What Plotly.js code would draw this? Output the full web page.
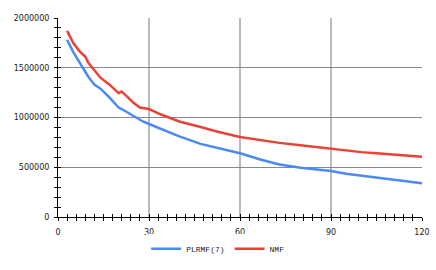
<!DOCTYPE html>
<html><head><meta charset="utf-8">
<script src="https://cdn.plot.ly/plotly-3.0.1.min.js"></script>
<style>html,body{margin:0;padding:0;background:#fff}#c{width:436px;height:270px}</style>
</head><body><div id="c"></div>
<script>
const xVals = [3,5,7,9,10,12,14,17,19,20,21,23,25,27,28,30,34,40,47,53,60,67,73,80,87,90,95,100,105,110,115,120];
const plrmf = [1780000,1660000,1560000,1460000,1410000,1330000,1290000,1200000,1140000,1100000,1085000,1050000,1020000,980000,960000,935000,885000,810000,735000,690000,640000,575000,527000,495000,475000,463000,435000,415000,398000,378000,358000,339000];
const nmf = [1870000,1750000,1670000,1610000,1550000,1470000,1400000,1330000,1270000,1245000,1262000,1200000,1145000,1100000,1095000,1085000,1030000,960000,905000,855000,805000,770000,745000,720000,695000,683000,665000,652000,640000,628000,617000,606000];
const seriesNames = ['PLRMF(7)', 'NMF'];
const xTicks = [0,30,60,90,120];
const yTicks = [0,500000,1000000,1500000,2000000];

const traces = [
  {x: xVals, y: plrmf, name: seriesNames[0], type: 'scatter', mode: 'lines', line: {color: '#4a8af4', width: 2.5}},
  {x: xVals, y: nmf, name: seriesNames[1], type: 'scatter', mode: 'lines', line: {color: '#ea4335', width: 2.5}},
  {x: [null], y: [null], xaxis: 'x2', yaxis: 'y2', showlegend: false, hoverinfo: 'skip'}
];
const tickFont = {family: 'DejaVu Sans', size: 8, color: '#222'};
const layout = {
  width: 436, height: 270,
  margin: {l: 58, r: 14, t: 18, b: 53, autoexpand: false},
  paper_bgcolor: '#fff', plot_bgcolor: '#fff',
  showlegend: true,
  legend: {orientation: 'h', x: 0.44, xanchor: 'center', y: -0.16, yanchor: 'middle',
           font: {family: 'Liberation Mono', size: 8, color: '#222'}, itemwidth: 30},
  xaxis: {range: [0, 120], tickvals: xTicks, ticktext: xTicks.map(String), showgrid: true, gridcolor: '#bbb', gridwidth: 1.5,
          zeroline: false, showline: true, linecolor: '#000', linewidth: 1, ticks: 'outside', ticklen: 3, tickcolor: '#000',
          minor: {dtick: 3, tick0: 0, ticks: 'outside', ticklen: 3, tickcolor: '#000', showgrid: false},
          tickfont: tickFont, fixedrange: true, automargin: false, ticklabelstandoff: 4},
  yaxis: {range: [0, 2000000], tickvals: yTicks, ticktext: yTicks.map(String), showgrid: true, gridcolor: '#888', gridwidth: 1,
          zeroline: false, showline: true, linecolor: '#000', linewidth: 1, ticks: 'outside', ticklen: 3, tickcolor: '#000',
          minor: {dtick: 100000, tick0: 0, ticks: 'outside', ticklen: 3, tickcolor: '#000', showgrid: false},
          tickfont: tickFont, fixedrange: true, automargin: false, ticklabelstandoff: 3},
  xaxis2: {overlaying: 'x', matches: 'x', range: [0, 120], dtick: 30, showgrid: false, zeroline: false, showticklabels: false,
           ticks: 'inside', ticklen: 3, tickcolor: '#000', side: 'bottom',
           minor: {dtick: 3, tick0: 0, ticks: 'inside', ticklen: 3, tickcolor: '#000'}},
  yaxis2: {overlaying: 'y', matches: 'y', range: [0, 2000000], dtick: 500000, showgrid: false, zeroline: false, showticklabels: false,
           ticks: 'inside', ticklen: 3, tickcolor: '#000', side: 'left',
           minor: {dtick: 100000, tick0: 0, ticks: 'inside', ticklen: 3, tickcolor: '#000'}}
};
Plotly.newPlot('c', traces, layout, {displayModeBar: false, staticPlot: true});
</script></body></html>
